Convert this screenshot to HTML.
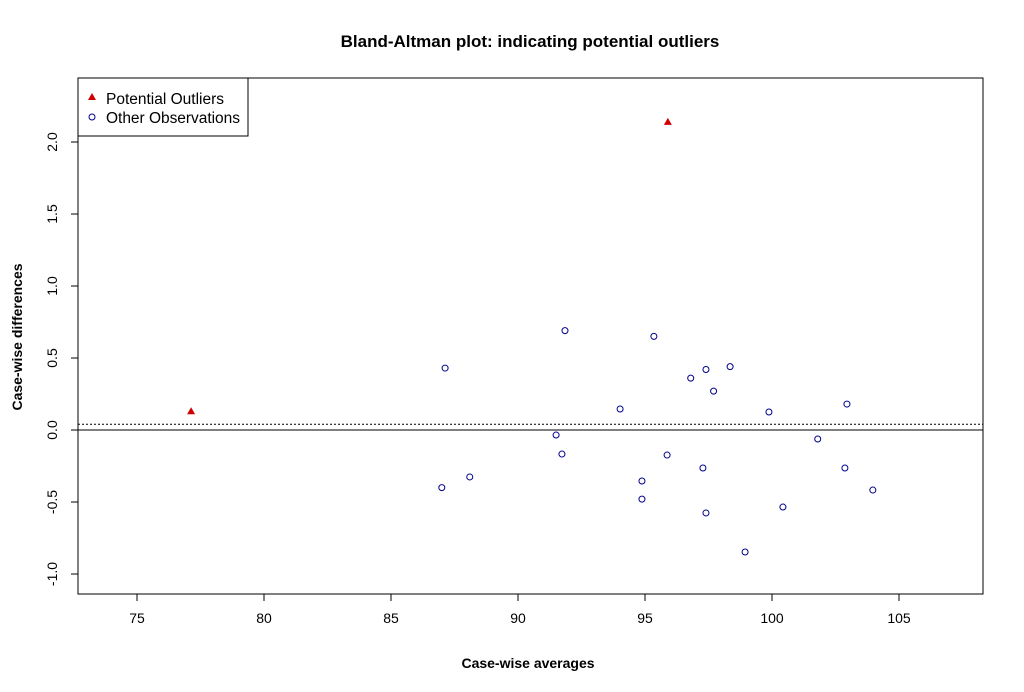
<!DOCTYPE html>
<html><head><meta charset="utf-8"><style>
body{margin:0;background:#fff}
svg{display:block;font-family:"Liberation Sans",Arial,sans-serif}
</style></head><body>
<svg id="c" width="1024" height="692">
<rect width="1024" height="692" fill="#fff"/>
<text x="530" y="47" text-anchor="middle" font-size="17" font-weight="bold">Bland-Altman plot: indicating potential outliers</text>
<rect x="78" y="78" width="905" height="516" fill="none" stroke="#000"/>
<g id="xt"></g><g id="yt"></g><g id="marks"></g>
<text x="528" y="668" text-anchor="middle" font-size="14" font-weight="bold">Case-wise averages</text>
<text transform="translate(22,337) rotate(-90)" text-anchor="middle" font-size="14" font-weight="bold">Case-wise differences</text>
<g>
<rect x="78" y="78" width="170" height="58" fill="#fff" stroke="#000"/>
<polygon points="92,93 96,100 88,100" fill="#d00000"/>
<text x="106" y="104" font-size="15.5" textLength="118">Potential Outliers</text>
<circle cx="92" cy="117" r="3" fill="none" stroke="#00008b"/>
<text x="106" y="123" font-size="15.5" textLength="134">Other Observations</text>
</g>
</svg>
<script>
const xTicks=[75,80,85,90,95,100,105];
const yTicks=[-1.0,-0.5,0.0,0.5,1.0,1.5,2.0];
const outX=[77.13,95.9];
const outY=[0.13,2.14];
const obsX=[87.13,91.85,95.35,94.02,91.5,91.73,88.1,87.0,94.88,94.88,95.87,96.8,97.4,97.7,98.35,97.28,97.4,98.94,99.88,100.43,101.8,102.95,102.87,103.97];
const obsY=[0.43,0.69,0.65,0.146,-0.035,-0.167,-0.326,-0.40,-0.354,-0.48,-0.174,0.36,0.42,0.27,0.44,-0.264,-0.576,-0.847,0.125,-0.535,-0.0625,0.18,-0.264,-0.417];
const meanDiff=0.04;
const X=v=>137+(v-75)*25.4, Y=v=>430-v*144;
const NS="http://www.w3.org/2000/svg";
function mk(t,a,p){const e=document.createElementNS(NS,t);for(const k in a)e.setAttribute(k,a[k]);p.appendChild(e);return e;}
const xt=document.getElementById('xt'),yt=document.getElementById('yt'),m=document.getElementById('marks');
xTicks.forEach(v=>{const x=X(v);
const l=mk('line',{x1:x,x2:x,y1:594,y2:601,stroke:'#000'},xt);


const t=mk('text',{x:x,y:623,'text-anchor':'middle','font-size':14},xt);t.textContent=v;

});
yTicks.forEach(v=>{const y=Y(v);
const l=mk('line',{x1:71,x2:78,y1:y,y2:y,stroke:'#000'},yt);


const t=mk('text',{transform:`translate(57,${y}) rotate(-90)`,'text-anchor':'middle','font-size':14},yt);t.textContent=v.toFixed(1);

});
const z=mk('line',{x1:78,x2:983,y1:Y(0),y2:Y(0),stroke:'#000'},m);


const md=mk('line',{x1:78,x2:983,y1:Y(meanDiff),y2:Y(meanDiff),stroke:'#000','stroke-dasharray':'2,2'},m);


obsX.forEach((v,i)=>{const c=mk('circle',{cx:X(v),cy:Y(obsY[i]),r:3,fill:'none',stroke:'#00008b'},m);

});
outX.forEach((v,i)=>{const x=X(v),y=Y(outY[i]);
const p=mk('polygon',{points:`${x},${y-4} ${x+4},${y+3} ${x-4},${y+3}`,fill:'#d00000'},m);

});
</script>
</body></html>
